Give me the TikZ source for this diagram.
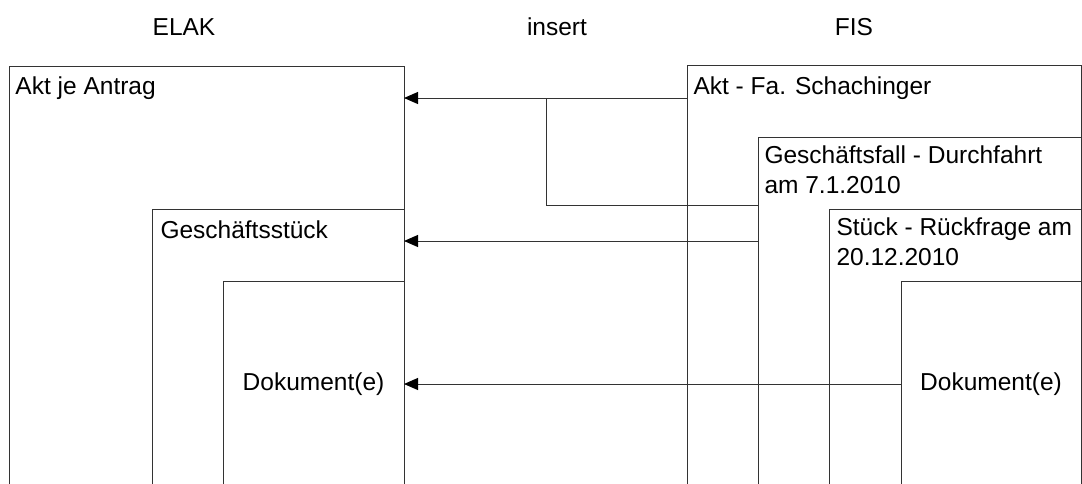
\documentclass[tikz,border=0pt]{standalone}
\usepackage{fontspec}
\setmainfont{Liberation Sans}
\usetikzlibrary{arrows.meta,positioning}

\begin{document}
\begin{tikzpicture}[x=1pt,y=-1pt,->,>={Triangle[length=14pt,width=12pt,color=black]},line width=1pt,draw=black!80,
    font=\fontsize{24.5}{30}\selectfont]
    \tikzset{box/.style 2 args={draw=black!80,rectangle,anchor=north west,inner sep=0pt,outer sep=0pt,
        minimum width=#1,minimum height=#2},
      txt/.style={anchor=north west,inner sep=0pt,align=left,execute at begin node=\strut},
      hdr/.style={anchor=base,inner sep=0pt}}

    \useasboundingbox (0,0) rectangle (1082,483);
    \clip (0,0) rectangle (1082,483);

    \node[hdr] (elak)   at (184,35) {ELAK};
    \node[hdr] (insert) at (557,35) {insert};
    \node[hdr] (fis)    at (854,35) {FIS};

    \node[box={395pt}{421pt}] (antrag)  at (9,66)   {};
    \node[box={252pt}{278pt}] (stueckE) at (152,209) {};
    \node[box={181pt}{206pt}] (dokE)    at (223,281) {Dokument(e)};

    \node[box={394pt}{422pt}] (aktF)    at (687,65)  {};
    \node[box={323pt}{350pt}] (fall)    at (758,137) {};
    \node[box={252pt}{278pt}] (stueckF) at (829,209) {};
    \node[box={180pt}{206pt}] (dokF)    at (901,281) {Dokument(e)};

    \node[txt,below right=7pt and 6pt of antrag.north west]  (antragT)  {Akt je Antrag};
    \node[txt,below right=8pt and 8pt of stueckE.north west] (stueckET) {Geschäftsstück};
    \node[txt,below right=8pt and 6pt of aktF.north west]    (aktFT)    {Akt - Fa. Schachinger};
    \node[txt,below right=8pt and 6pt of fall.north west]    (fallT)    {Geschäftsfall - Durchfahrt\\am 7.1.2010};
    \node[txt,below right=8pt and 7pt of stueckF.north west] (stueckFT) {Stück - Rückfrage am\\20.12.2010};

    \coordinate (aktRow)  at (546,98);
    \coordinate (fallRow) at (546,205);
    \coordinate (gsRow)   at (546,241);

    \draw (aktF.west |- aktRow) -- (antrag.east |- aktRow);
    \draw[-] (aktRow) -- (fallRow) -- (fall.west |- fallRow);
    \draw (fall.west |- gsRow) -- (stueckE.east |- gsRow);
    \draw (dokF) -- (dokE);
\end{tikzpicture}
\end{document}
